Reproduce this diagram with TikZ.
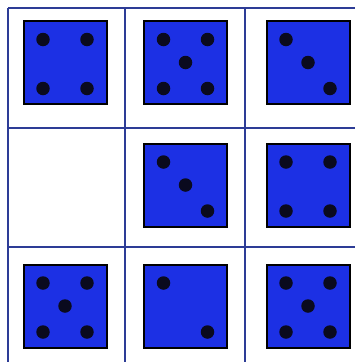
\documentclass[tikz,border=0pt]{standalone}
\usetikzlibrary{calc}
\definecolor{gridblue}{RGB}{45,60,150}
\definecolor{dieblue}{RGB}{28,48,228}
\definecolor{pipblack}{RGB}{10,10,30}
\tikzset{
  gridline/.style={draw=gridblue, line width=1.4pt},
  diebox/.style={draw=black, line width=2pt, fill=dieblue, minimum size=83pt, inner sep=0pt, rectangle},
  pipdot/.style={fill=pipblack, circle, minimum size=13.5pt, inner sep=0pt},
}
\begin{document}
\begin{tikzpicture}[x=1pt,y=-1pt]
\useasboundingbox (0,0) rectangle (355,362);
\fill[white] (0,0) rectangle (355,362);
% grid
\draw[gridline] (8,8) -- (355,8);
\draw[gridline] (8,128) -- (355,128);
\draw[gridline] (8,247) -- (355,247);
\draw[gridline] (8,8) -- (8,362);
\draw[gridline] (125,8) -- (125,362);
\draw[gridline] (245,8) -- (245,362);
% dice: name/x/y/pips (TL,TR,C,BL,BR flags)
\foreach \nm/\cx/\cy/\pl in {
  d11/65/62.5/{1,1,0,1,1},
  d12/185.5/62.5/{1,1,1,1,1},
  d13/308/62.5/{1,0,1,0,1},
  d22/185.5/185/{1,0,1,0,1},
  d23/308/185/{1,1,0,1,1},
  d31/65/306/{1,1,1,1,1},
  d32/185.5/306/{1,0,0,0,1},
  d33/308/306/{1,1,1,1,1}} {
  \node[diebox] (\nm) at (\cx,\cy) {};
  \foreach \f [count=\i] in \pl {
    \ifnum\f=1
      \ifcase\i\or
        \node[pipdot] (\nm p\i) at ($(\nm.center)+(-22,-23)$) {};
      \or
        \node[pipdot] (\nm p\i) at ($(\nm.center)+(22,-23)$) {};
      \or
        \node[pipdot] (\nm p\i) at (\nm.center) {};
      \or
        \node[pipdot] (\nm p\i) at ($(\nm.center)+(-22,26)$) {};
      \or
        \node[pipdot] (\nm p\i) at ($(\nm.center)+(22,26)$) {};
      \fi
    \fi
  }
}
\end{tikzpicture}
\end{document}
